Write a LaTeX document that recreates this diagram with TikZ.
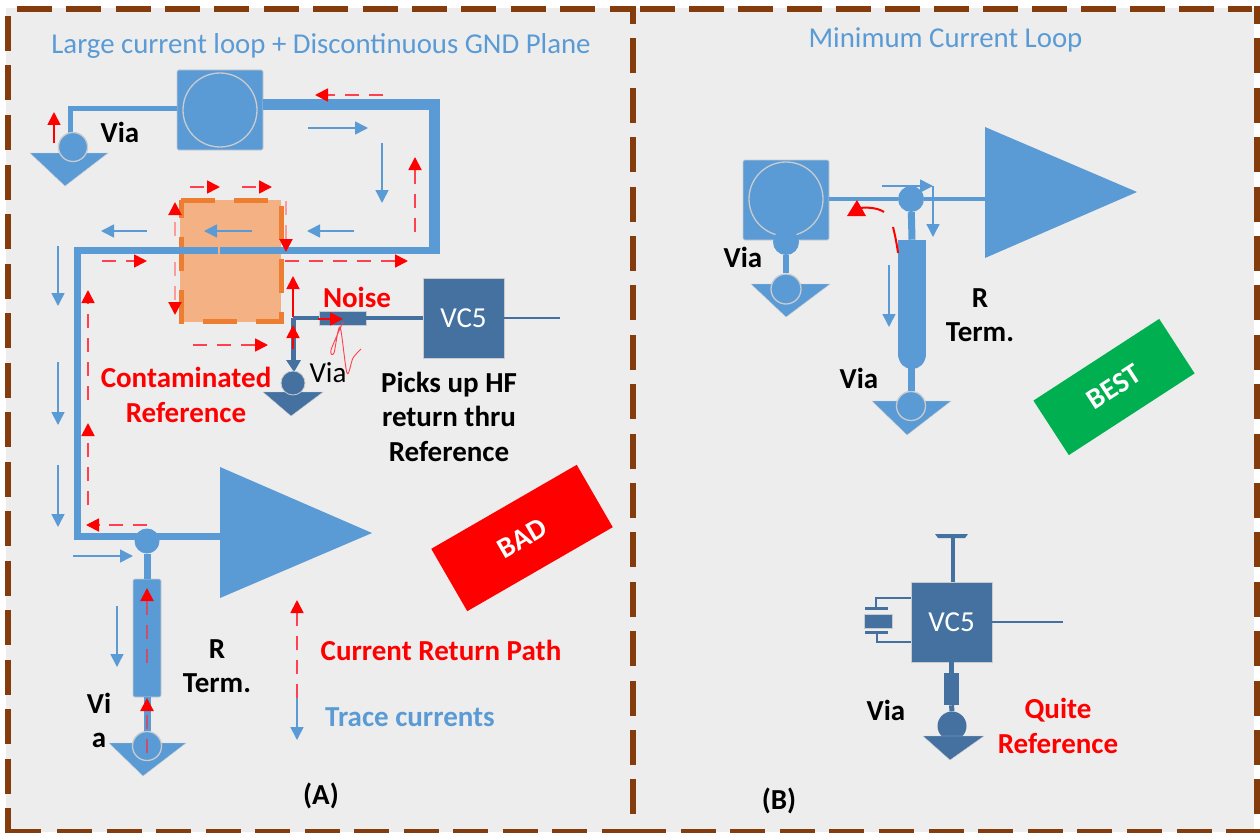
\documentclass[tikz,border=0pt]{standalone}
\usepackage{fontspec}
\setmainfont{Carlito}
\usetikzlibrary{arrows.meta}
\definecolor{tb}{HTML}{5B9BD5}
\definecolor{db}{HTML}{44719F}
\definecolor{pan}{HTML}{EDEDED}
\definecolor{brn}{HTML}{843C0C}
\definecolor{og}{HTML}{ED7D31}
\definecolor{ogf}{HTML}{F4B183}
\definecolor{edge}{HTML}{C9CBCE}
\definecolor{lred}{HTML}{FF9A9A}
\definecolor{mred}{HTML}{FF4050}
\definecolor{ired}{HTML}{C8506F}
\definecolor{grn}{HTML}{00B050}
\newcommand{\fs}[1]{\fontsize{#1}{34.5}\selectfont}
\newcommand{\conn}[4]{\coordinate (#2a) at (#3); \coordinate (#2b) at (#4); \draw[#1] (#2a) -- (#2b);}
\tikzset{
  x=1pt,y=-1pt,
  border/.style={draw=brn,line width=6pt,dash pattern=on 35pt off 14.5pt},
  trace/.style={draw=tb,line join=miter},
  dtrace/.style={draw=db,line join=miter},
  comp/.style={rectangle,fill=tb,draw=edge,line width=.6pt,inner sep=0pt,rounded corners=1.5pt},
  dcomp/.style={rectangle,fill=db,draw=edge,line width=.6pt,inner sep=0pt},
  ring/.style={circle,fill=tb,draw=edge,line width=1.3pt,inner sep=0pt},
  dot/.style={circle,fill=tb,inner sep=0pt},
  ddot/.style={circle,fill=db,inner sep=0pt},
  gnd/.style={fill=tb,draw=edge,line width=.4pt},
  dgnd/.style={fill=db,draw=edge,line width=.4pt},
  tipb/.style={-{Triangle[length=13pt,width=13pt,color=red]}},
  barrow/.style={-{Triangle[length=13pt,width=13pt]},draw=tb,line width=1.6pt},
  rarrow/.style={tipb,draw=red,line width=1.8pt},
  rdash/.style={tipb,draw=mred,line width=1.8pt,dash pattern=on 14pt off 10pt},
  rinner/.style={tipb,draw=ired,line width=2.2pt,dash pattern=on 14pt off 10pt},
  rlight/.style={tipb,draw=lred,line width=2pt,dash pattern=on 14pt off 10pt},
  lab/.style={font=\fs{29}\bfseries,text=black,inner sep=0pt,align=center},
  rlab/.style={font=\fs{29}\bfseries,text=red,inner sep=0pt,align=center},
  blab/.style={font=\fs{29}\bfseries,text=tb,inner sep=0pt},
  ttl/.style={font=\fs{28.8},text=tb,inner sep=0pt},
  vcl/.style={font=\fs{29},text=white},
}
\begin{document}
\begin{tikzpicture}
\useasboundingbox (0,0) rectangle (1260,832);
% background
\fill[pan] (6,8) rectangle (1254,832);
\coordinate (lt) at (7.7,16); \coordinate (lb) at (7.7,832);
\draw[border] (lt) -- (lb);
\coordinate (ta1) at (16.7,9.5); \coordinate (ta2) at (636,9.5);
\draw[border,dash pattern=on 35pt off 14.4pt] (ta1) -- (ta2);
\coordinate (tb1) at (640,9.5); \coordinate (tb2x) at (1252,9.5);
\draw[border,dash pattern=on 35pt off 14pt] (tb1) -- (tb2x);
\coordinate (mt) at (633,6); \coordinate (mb) at (633,832);
\draw[border,dash pattern=on 35pt off 14.4pt,dash phase=17pt] (mt) -- (mb);
\coordinate (rt1) at (1256.5,6); \coordinate (rb1) at (1256.5,832);
\draw[border,dash pattern=on 35pt off 14.4pt,dash phase=17pt] (rt1) -- (rb1);
\coordinate (ba1) at (5,831.5); \coordinate (ba0) at (41,831.5); \coordinate (ba3) at (57,831.5); \coordinate (ba2) at (633,831.5);
\draw[draw=brn,line width=6pt] (ba1) -- (ba0);
\draw[border] (ba3) -- (ba2);
\coordinate (bb1) at (631,831.5); \coordinate (bb2) at (1260,831.5);
\draw[border,dash pattern=on 35pt off 14.6pt] (bb1) -- (bb2);

% ---------- panel A ----------
\node[ttl] (titleA) at (321,46) {Large current loop + Discontinuous GND Plane};
\node[rectangle,fill=ogf,inner sep=0pt,minimum width=101pt,minimum height=122pt] (cont) at (230.5,261) {};
\draw[draw=og,line width=5pt,dash pattern=on 34pt off 19pt,line cap=butt] (181,200) -- (281,200) -- (281,321) -- (181,321) -- cycle;

% crystal component and via
\node[comp,minimum width=86pt,minimum height=80pt] (xA) at (220,110) {};
\node[ring,minimum size=74pt] (xAc) at (220,110) {};
\coordinate (wA) at (70,109);
\draw[trace,line width=5pt] (70,136) -- (wA) -- (xA.west |- wA);
\fill[gnd] (30,153) -- (108,153) -- (65,186) -- cycle;
\node[ring,minimum size=29pt] (viaA) at (73,147) {};
% thick trace
\coordinate (tc) at (434,105);
\coordinate (tb2) at (434,250.5);
\draw[trace,line width=11pt] (xA.east |- tc) -- (tc) -- (tb2);
% thin trace
\coordinate (c1) at (440,250.5);
\coordinate (c2) at (220,250.5);
\coordinate (c3) at (218,250.5);
\coordinate (c4) at (77.5,250.5);
\coordinate (c5) at (77.5,536);
\draw[trace,line width=7pt] (c1) -- (c2);
\draw[trace,line width=7pt] (c3) -- (c4) -- (c5) -- (220,536);
% amplifier A
\fill[tb] (220,467) -- (372,533) -- (220,598) -- cycle;
% R term A
\node[dot,minimum size=25pt] (jA) at (147,541) {};
\node[comp,minimum width=28pt,minimum height=118pt] (rA) at (147,638) {};
\fill[gnd] (109,743) -- (186,743) -- (143,776) -- cycle;
\node[ring,minimum size=29pt] (viaB) at (147,746) {};
\draw[trace,line width=7pt] (jA) -- (rA.north);
\draw[trace,line width=7pt] (rA.south) -- (viaB.north);

% VC5 noise
\node[dcomp,minimum width=81pt,minimum height=80pt] (vcA) at (463.5,318) {};
\node[vcl] at (vcA) {VC5};
\node[dcomp,minimum width=47pt,minimum height=14pt] (nR) at (342.5,318) {};
\coordinate (nc) at (293,318);
\coordinate (nd) at (293,362);
\coordinate (ne) at (560,318);
\draw[dtrace,line width=3.5pt] (nR) -- (vcA);
\draw[dtrace,line width=2.5pt] (vcA) -- (ne);
\draw[dtrace,line width=3.5pt] (nc) -- (nR);
\draw[dtrace,line width=5pt] (nc) -- (nd);
\fill[db] (286,360) -- (301,360) -- (294,372) -- cycle;
\fill[dgnd] (263,392) -- (323,392) -- (291,416) -- cycle;
\node[ddot,draw=edge,line width=.8pt,minimum size=24pt] (viaN) at (293,383) {};

% light red loops by the orange box
\conn{rlight}{l1}{286,201}{286,252}
\conn{rlight}{l2}{175,262}{175,315}
\conn{rlight}{l3}{175,236}{175,202}

% blue arrows
\conn{barrow}{b1}{308,128}{368,128}
\conn{barrow}{b2}{382,143}{382,203}
\conn{barrow}{b3}{354,231}{307,231}
\conn{barrow}{b4}{252,231}{204,231}
\conn{barrow}{b5}{147,231}{101,231}
\conn{barrow}{b6}{58,246}{58,306}
\conn{barrow}{b7}{58,362}{58,425}
\conn{barrow}{b8}{58,465}{58,527}
\conn{barrow}{b9}{73,556}{133,556}
\conn{barrow}{b10}{117,606}{117,667}
\conn{barrow}{b11}{297,698}{297,740}

% red arrows
\conn{rdash}{r1}{383,95}{315,95}
\conn{rarrow}{r2}{54,143}{54,112}
\conn{rdash}{r3}{415,232}{415,157}
\conn{rdash}{r4}{190,187}{220,187}
\conn{rdash}{r5}{242,187}{272,187}
\conn{rdash}{r6}{102,261}{147,261}
\conn{rdash}{r7}{285,261}{408,261}
\conn{rdash}{r8}{193,345}{268,345}
\conn{rarrow}{r9}{293,317}{293,276}
\conn{rarrow}{r10}{293,349}{293,325}
\conn{rarrow}{r11}{318,319}{343,319}
\conn{rdash}{r12}{88,400}{88,290}
\conn{rdash}{r13}{88,505}{88,423}
\conn{rdash}{r14}{147,525}{86,525}
\conn{rinner}{r15}{147,663}{147,588}
\conn{rinner}{r16}{147,753}{147,698}
\conn{rdash}{r17}{297,698}{297,600}
\draw[mred,line width=.9pt] plot[smooth,tension=.5] coordinates {(343,322) (331,350) (334,353) (340,327) (347,373) (353,358) (361,349)};

% badges
\node[fill=red,minimum width=168pt,minimum height=72pt,rotate=30,font=\fs{29}\bfseries,text=white,inner sep=0pt] (bad) at (522,538) {BAD};
\node[fill=grn,minimum width=150pt,minimum height=65pt,rotate=33,font=\fs{29}\bfseries,text=white,inner sep=0pt] (best) at (1114,387) {BEST};

% labels A
\node[lab] (v1) at (120,132) {Via};
\node[rlab] (noise) at (357,297) {Noise};
\node[lab,font=\fs{29}] (v2) at (328,373) {Via};
\node[rlab] (contl) at (186,395) {Contaminated\\Reference};
\node[lab] (picks) at (449,416.5) {Picks up HF\\return thru\\Reference};
\node[rlab] (crp) at (441,650.5) {Current Return Path};
\node[blab] (trc) at (410,717) {Trace currents};
\node[lab] (rt) at (217,666) {R\\Term.};
\node[lab] (vi) at (99,720.5) {Vi\\a};
\node[lab] (labA) at (321,796) {(A)};

% ---------- panel B ----------
\node[ttl] (titleB) at (945.5,40) {Minimum Current Loop};
\fill[tb] (985,127) -- (1137,192) -- (985,258) -- cycle;
\node[comp,minimum width=86pt,minimum height=80pt] (xB) at (786,200) {};
\node[ring,minimum size=74pt] (xBc) at (786,199) {};
\node[dot,minimum size=26pt] (s1) at (786,242) {};
\fill[gnd] (751,284) -- (830,284) -- (786,317) -- cycle;
\node[ring,minimum size=30pt] (viaC) at (786,289) {};
\draw[trace,line width=6pt] (s1) -- (viaC);
\node[dot,minimum size=26pt] (jB) at (911,199) {};
\coordinate (ampB) at (985,199);
\draw[trace,line width=4pt] (xB.east |- jB) -- (jB) -- (ampB);
\node[comp,draw=none,rounded corners=0pt,minimum width=28pt,minimum height=117pt] (rB) at (912,298.5) {};
\fill[tb] (898,355) .. controls (899,364) and (905,369) .. (912,369) .. controls (919,369) and (925,364) .. (926,355) -- cycle;
\fill[gnd] (872,401) -- (951,401) -- (907,435) -- cycle;
\node[ring,minimum size=29pt] (viaD) at (911,406) {};
\draw[trace,line width=7pt] (jB) -- (rB.north);
\draw[trace,line width=7pt] (911,365) -- (viaD.north);

\conn{barrow}{b12}{882,186}{933,186}
\conn{barrow}{b13}{933,186}{933,237}
\conn{barrow}{b14}{889,265}{889,327}
\fill[red] (847,216) -- (866,216) -- (857,200) -- cycle;
\coordinate (q1) at (884,212); \coordinate (q2) at (860,208);
\draw[red,line width=2pt] (q1) .. controls (878,208) and (868,207) .. (q2);
\coordinate (q3) at (893,227); \coordinate (q4) at (898,253);
\draw[red,line width=2pt] (q3) .. controls (895,235) and (897,245) .. (q4);

\node[lab] (v3) at (743,257.5) {Via};
\node[lab] (v4) at (859,378.5) {Via};
\node[lab] (rt2) at (980,315) {R\\Term.};

% VC5 B
\node[dcomp,minimum width=81pt,minimum height=80pt] (vcB) at (951.5,622) {};
\node[vcl] at (vcB) {VC5};
\coordinate (tp) at (953,535);
\draw[dtrace,line width=3.5pt] (vcB.north -| tp) -- (tp);
\fill[db] (935,534) -- (968,534) -- (965,538) -- (938,538) -- cycle;
\coordinate (oe) at (1063,622);
\draw[dtrace,line width=2pt] (vcB.east) -- (oe);
\node[dcomp,minimum width=28pt,minimum height=14pt] (xt) at (878,621) {};
\coordinate (p1) at (876,608); \coordinate (p2) at (877,632);
\fill[db] (865,607) rectangle (888,609.5);
\fill[db] (865,631) rectangle (888,633.5);
\draw[dtrace,line width=2pt] (p1) |- (vcB.west |- 0,598);
\draw[dtrace,line width=2pt] (p2) |- (vcB.west |- 0,642);
\node[dcomp,draw=none,minimum width=15pt,minimum height=32pt] (rC) at (951.5,689) {};
\node[ddot,minimum size=29pt] (viaE) at (952,726) {};
\draw[dtrace,line width=5pt] (vcB.south) -- (rC.north);
\draw[dtrace,line width=5pt] (rC.south) -- (viaE.north);
\fill[dgnd] (923,736) -- (984,736) -- (950,760) -- cycle;

\node[lab] (v5) at (886,710.5) {Via};
\node[rlab] (quite) at (1058,726) {Quite\\Reference};
\node[lab] (labB) at (779,800.5) {(B)};
\end{tikzpicture}
\end{document}
